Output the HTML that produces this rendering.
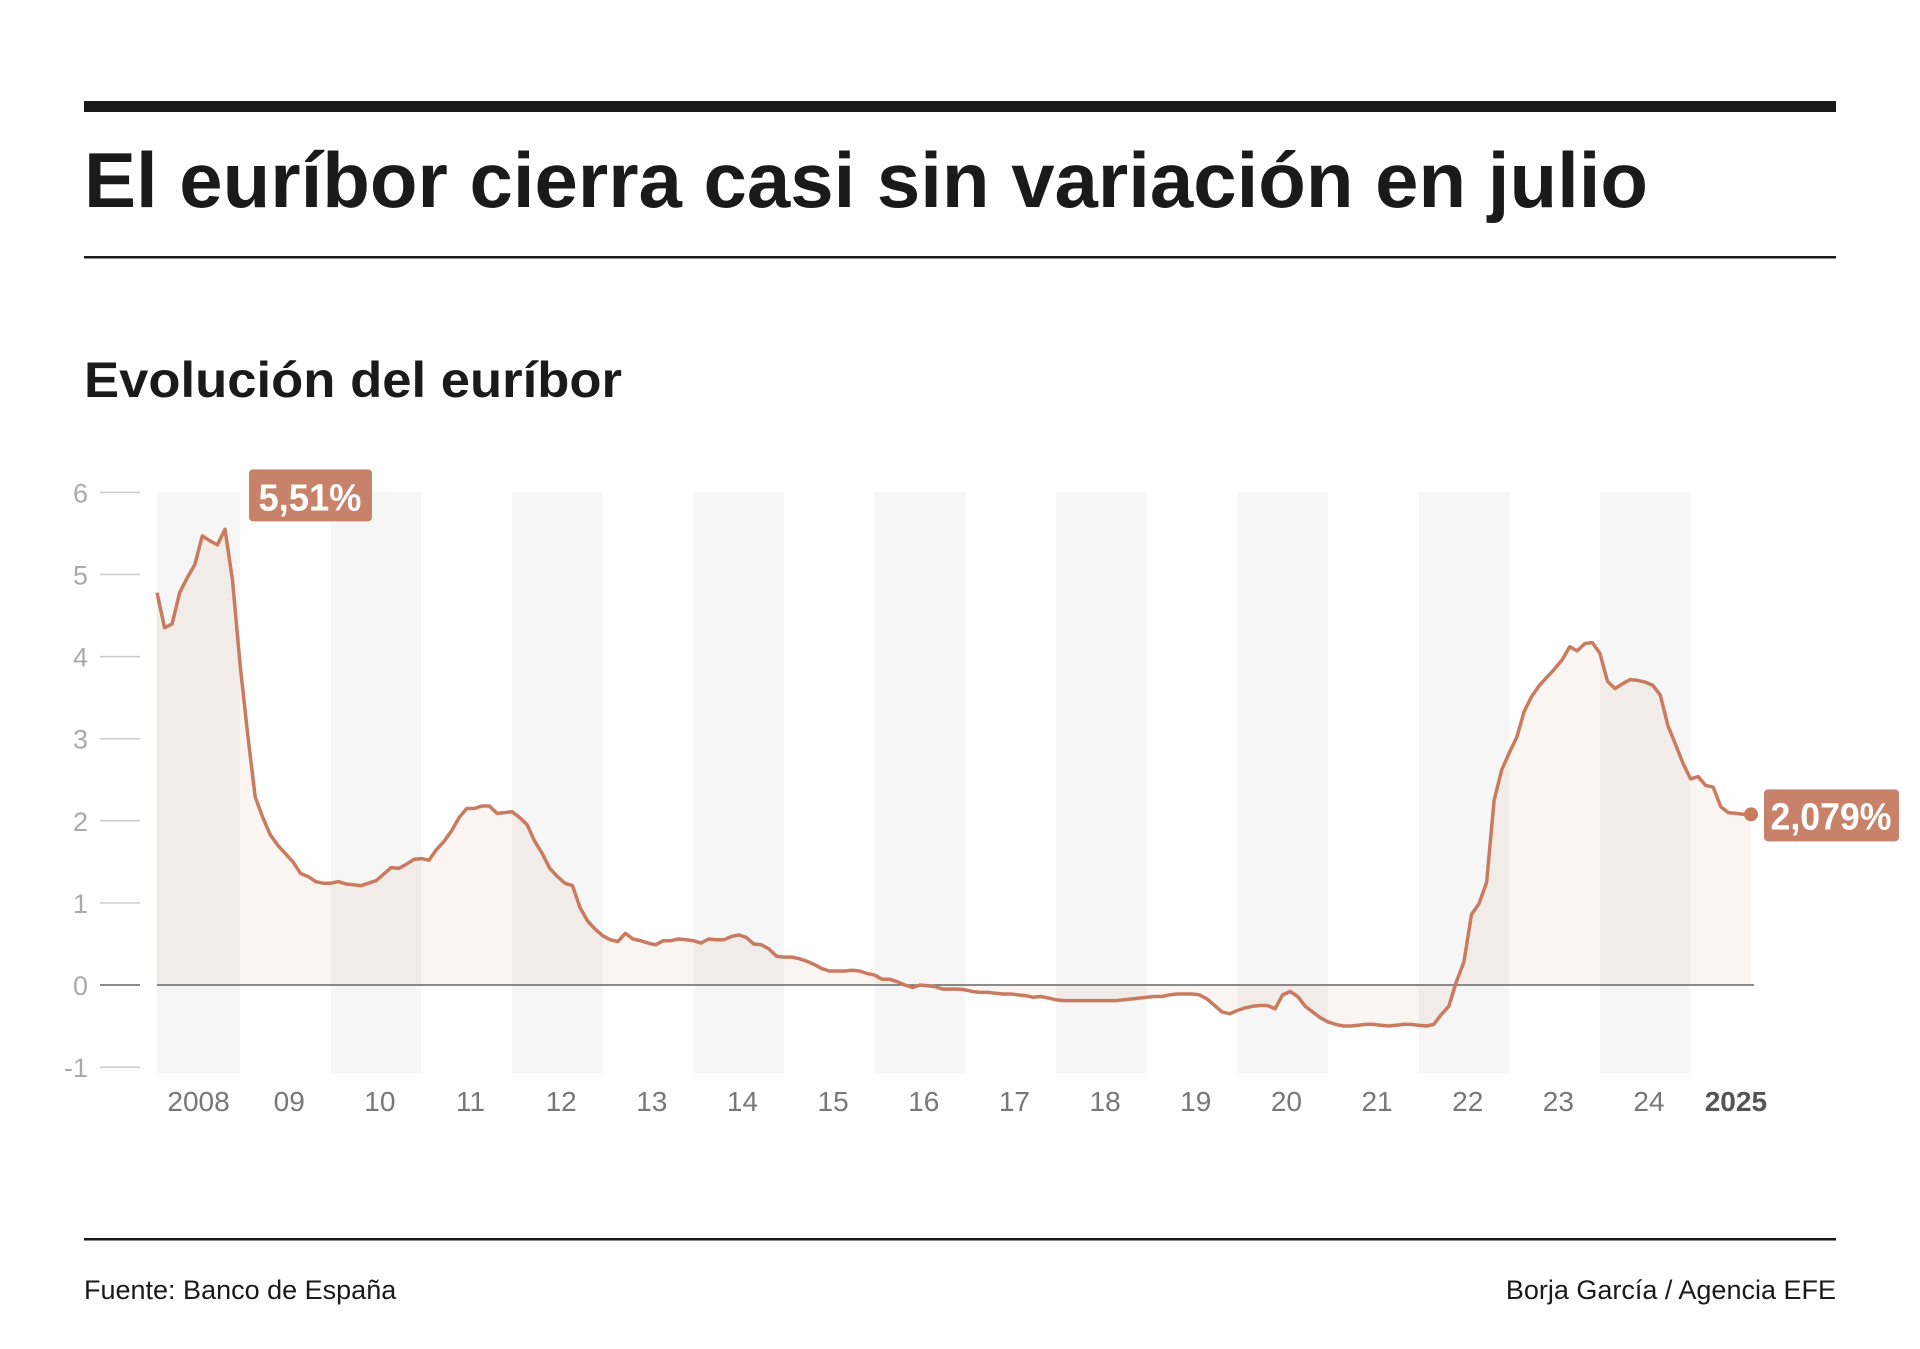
<!DOCTYPE html>
<html><head><meta charset="utf-8"><style>
html,body{margin:0;padding:0;background:#fff;}
svg{display:block;font-family:"Liberation Sans",Arial,sans-serif;}
</style></head><body>
<svg id="chart" width="1920" height="1349" viewBox="0 0 1920 1349" xmlns="http://www.w3.org/2000/svg">
<rect x="84" y="101" width="1752" height="11" fill="#1a1a1a"/>
<text x="84" y="207" font-size="78" font-weight="bold" fill="#1a1a1a" textLength="1564" lengthAdjust="spacingAndGlyphs">El euríbor cierra casi sin variación en julio</text>
<rect x="84" y="256" width="1752" height="2.5" fill="#1a1a1a"/>
<text x="84" y="397" font-size="50" font-weight="bold" fill="#1a1a1a" textLength="538" lengthAdjust="spacingAndGlyphs">Evolución del euríbor</text>
<g id="bands"></g>
<g id="yaxis"></g>
<g id="xaxis"></g>
<g id="series"></g>
<rect x="84" y="1238" width="1752" height="2.5" fill="#1a1a1a"/>
<text x="84" y="1299" font-size="27" fill="#1a1a1a">Fuente: Banco de España</text>
<text x="1836" y="1299" font-size="27" fill="#1a1a1a" text-anchor="end">Borja García / Agencia EFE</text>
</svg>
<script>
const yTicks = [6,5,4,3,2,1,0,-1];
const xLabels = ["2008","09","10","11","12","13","14","15","16","17","18","19","20","21","22","23","24","2025"];
const startYear = 2008;
const values = [
4.78,4.35,4.40,4.78,4.96,5.12,5.47,5.41,5.36,5.55,4.93,3.90,3.05,2.29,2.04,1.83,1.70,1.60,1.50,1.36,
1.32,1.26,1.24,1.24,1.26,1.23,1.22,1.21,1.24,1.27,1.35,1.43,1.42,1.47,1.53,1.54,1.52,1.65,1.75,1.88,
2.04,2.15,2.15,2.18,2.18,2.09,2.10,2.11,2.04,1.95,1.75,1.60,1.42,1.32,1.24,1.21,0.94,0.78,0.68,0.60,
0.55,0.53,0.63,0.56,0.54,0.51,0.49,0.54,0.54,0.56,0.55,0.54,0.51,0.56,0.55,0.55,0.59,0.61,0.58,0.50,
0.49,0.44,0.35,0.34,0.34,0.32,0.29,0.25,0.20,0.17,0.17,0.17,0.18,0.17,0.14,0.12,0.07,0.07,0.04,0.00,
-0.03,0.00,-0.01,-0.02,-0.05,-0.05,-0.05,-0.06,-0.08,-0.09,-0.09,-0.10,-0.11,-0.11,-0.12,-0.13,-0.15,-0.14,-0.16,-0.18,
-0.19,-0.19,-0.19,-0.19,-0.19,-0.19,-0.19,-0.19,-0.18,-0.17,-0.16,-0.15,-0.14,-0.14,-0.12,-0.11,-0.11,-0.11,-0.12,-0.17,
-0.25,-0.33,-0.35,-0.31,-0.28,-0.26,-0.25,-0.25,-0.29,-0.12,-0.08,-0.14,-0.26,-0.33,-0.40,-0.45,-0.48,-0.50,-0.50,-0.49,
-0.48,-0.48,-0.49,-0.50,-0.49,-0.48,-0.48,-0.49,-0.50,-0.48,-0.36,-0.26,0.04,0.28,0.86,0.99,1.25,2.25,2.62,2.83,
3.02,3.34,3.52,3.65,3.75,3.85,3.96,4.12,4.07,4.16,4.17,4.04,3.70,3.61,3.67,3.72,3.71,3.69,3.65,3.53,
3.16,2.93,2.70,2.51,2.54,2.43,2.41,2.17,2.10,2.09,2.08,2.079
];
const peakLabel = "5,51%";
const lastLabel = "2,079%";

const NS = "http://www.w3.org/2000/svg";
const X0 = 157, X1 = 1751, Y0 = 985, PER = 82.1;
const n = values.length;
function x(i){ return X0 + (X1 - X0) * i / (n - 1); }
function y(v){ return Y0 - PER * v; }
function mk(tag, attrs, parent){ const e = document.createElementNS(NS, tag); for (const k in attrs) e.setAttribute(k, attrs[k]); parent.appendChild(e); return e; }

const bands = document.getElementById('bands');
for (let k = 0; k < xLabels.length; k += 2) {
  const a = Math.max(0, 12*k - 1), b = Math.min(n - 1, 12*k + 11);
  if (b <= a) continue;
  const r = mk('rect', {x: x(a), y: 492, width: x(b) - x(a), height: 581, fill: '#f6f6f6'}, bands);
  
  
}

const ya = document.getElementById('yaxis');
yTicks.forEach(t => {
  if (t !== 0) {
    const l = mk('line', {x1: 100, x2: 140, y1: y(t), y2: y(t), stroke: '#cccccc', 'stroke-width': 1.5}, ya);
    
    
  } else {
    const l = mk('line', {x1: 100, x2: 140, y1: y(t), y2: y(t), stroke: '#666', 'stroke-width': 1.5}, ya);
    
    
  }
  const tx = mk('text', {x: 88, y: y(t) + 10, 'font-size': 27, fill: '#aaaaaa', 'text-anchor': 'end'}, ya);
  tx.textContent = String(t);
  
  
});

const xa = document.getElementById('xaxis');
xLabels.forEach((lab, k) => {
  const i = Math.min(12*k + 5.5, n - 2.5);
  const last = k === xLabels.length - 1;
  const t = mk('text', {x: x(last ? 209 : i), y: 1111, 'font-size': 28, fill: last ? '#555' : '#777', 'text-anchor': 'middle', 'font-weight': last ? 'bold' : 'normal', transform: ''}, xa);
  t.textContent = lab;
  
  
});

const s = document.getElementById('series');
let d = '';
values.forEach((v, i) => { d += (i ? 'L' : 'M') + x(i).toFixed(1) + ',' + y(v).toFixed(1); });
const area = mk('path', {d: d + 'L' + x(n-1) + ',' + y(0) + 'L' + x(0) + ',' + y(0) + 'Z', fill: 'rgba(201,123,95,0.08)'}, s);


const zl = mk('line', {x1: x(0), x2: x(n-1) + 3, y1: y(0), y2: y(0), stroke: '#666', 'stroke-width': 1.5}, s);


const line = mk('path', {d: d, fill: 'none', stroke: '#c97b5f', 'stroke-width': 3.5, 'stroke-linejoin': 'round'}, s);


const dot = mk('circle', {cx: x(n-1), cy: y(values[n-1]), r: 7, fill: '#c97b5f'}, s);



let pk = 0; values.forEach((v, i) => { if (v > values[pk]) pk = i; });
const pb = mk('rect', {x: x(pk) + 24, y: y(values[pk]) - 60, width: 123, height: 52, rx: 4, fill: '#c8826a'}, s);


const pt = mk('text', {x: x(pk) + 85, y: y(values[pk]) - 19, 'font-size': 38, 'font-weight': 'bold', fill: '#fff', 'text-anchor': 'middle', textLength: 103, lengthAdjust: 'spacingAndGlyphs'}, s);
pt.textContent = peakLabel;



const lb = mk('rect', {x: x(n-1) + 13, y: y(values[n-1]) - 25, width: 135, height: 52, rx: 4, fill: '#c8826a'}, s);


const lt = mk('text', {x: x(n-1) + 80, y: y(values[n-1]) + 15, 'font-size': 38, 'font-weight': 'bold', fill: '#fff', 'text-anchor': 'middle', textLength: 121, lengthAdjust: 'spacingAndGlyphs'}, s);
lt.textContent = lastLabel;


</script>
</body></html>
